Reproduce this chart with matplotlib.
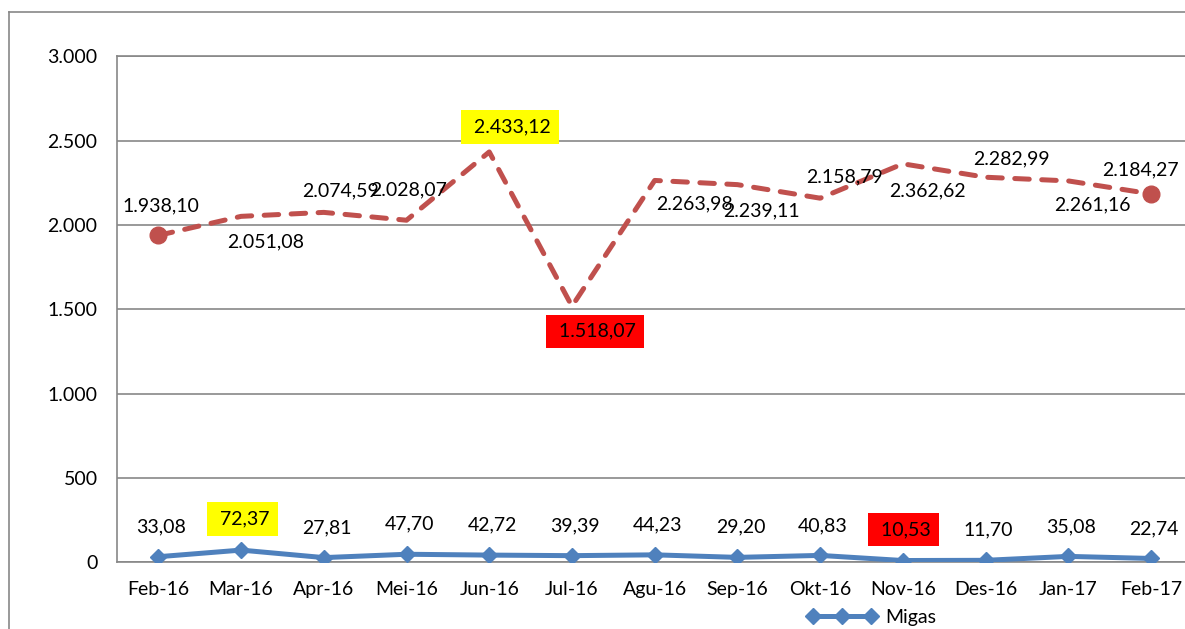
import matplotlib
matplotlib.use("Agg")
import matplotlib.pyplot as plt
from matplotlib.lines import Line2D

plt.rcParams['font.family'] = ['Lato', 'DejaVu Sans']

# data
months = ["Feb-16", "Mar-16", "Apr-16", "Mei-16", "Jun-16", "Jul-16", "Agu-16",
          "Sep-16", "Okt-16", "Nov-16", "Des-16", "Jan-17", "Feb-17"]
non_migas = [1938.10, 2051.08, 2074.59, 2028.07, 2433.12, 1518.07, 2263.98,
             2239.11, 2158.79, 2362.62, 2282.99, 2261.16, 2184.27]
migas = [33.08, 72.37, 27.81, 47.70, 42.72, 39.39, 44.23,
         29.20, 40.83, 10.53, 11.70, 35.08, 22.74]
y_ticks = [0, 500, 1000, 1500, 2000, 2500, 3000]
y_labels = ["0", "500", "1.000", "1.500", "2.000", "2.500", "3.000"]

# highlighted labels (max / min)
nm_boxes = {4: "#FFFF00", 5: "#FF0000"}
mg_boxes = {1: "#FFFF00", 9: "#FF0000"}

# label offsets in pixels (dx, dy) for the non-migas series, as Excel placed them
nm_offsets = [(3, -30), (25, 26), (17, -22), (2, -30), (21, -25), (23, 25), (40, 23),
              (24, 26), (24, -21), (25, 27), (26, -18), (24, 24), (-11, -24)]

RED = "#C0504D"
BLUE = "#4F81BD"
GRID = "#878787"
FS = 14


def fmt_id(v):
    s = f"{v:,.2f}"
    return s.replace(",", "#").replace(".", ",").replace("#", ".")


fig = plt.figure(figsize=(11.85, 6.29), dpi=100)
ax = fig.add_axes([117 / 1185, 66.7 / 629, 1075.4 / 1185, 506 / 629])

x = list(range(len(months)))

ax.plot(x, non_migas, color=RED, lw=3.6, linestyle=(0, (2.9, 2.5)),
        dash_capstyle='round', marker='o', markersize=12, markevery=[0, len(x) - 1],
        label="Non Migas", zorder=3)
mg_line, = ax.plot(x, migas, color=BLUE, lw=3.6, marker='D', markersize=8.5,
                   markeredgewidth=1, solid_capstyle='round', label="Migas", zorder=3)

px = 0.72  # points per pixel at 100 dpi


def put_label(i, v, dx, dy, box):
    txt = fmt_id(v)
    kw = {}
    if box:
        txt = " " + txt
        kw['bbox'] = dict(boxstyle='square,pad=0.42', fc=box, ec='none')
    ax.annotate(txt, (i, v), xytext=(dx * px, -dy * px), textcoords='offset points',
                ha='center', va='center', fontsize=FS, color='black', zorder=5, **kw)


for i, v in enumerate(non_migas):
    dx, dy = nm_offsets[i]
    put_label(i, v, dx, dy, nm_boxes.get(i))

for i, v in enumerate(migas):
    box = mg_boxes.get(i)
    put_label(i, v, 1 if box else 3, -31 if box else -30, box)

ax.set_xlim(-0.5, 12.5)
ax.set_ylim(0, 3000)
ax.set_xticks(x)
ax.set_xticklabels(months, fontsize=FS)
ax.set_yticks(y_ticks)
ax.set_yticklabels(y_labels, fontsize=FS)
ax.tick_params(axis='both', length=0)
ax.tick_params(axis='x', pad=13.5)
ax.tick_params(axis='y', pad=14)

ax.grid(axis='y', color=GRID, lw=1.2)
ax.set_axisbelow(True)
for side in ['left', 'bottom', 'top']:
    ax.spines[side].set_color(GRID)
    ax.spines[side].set_linewidth(1.2)
ax.spines['right'].set_visible(False)

# outer chart frame (cut by the image on right and bottom)
fig.add_artist(Line2D([8.5 / 1185, 8.5 / 1185], [0, 1 - 11.5 / 629],
                      transform=fig.transFigure, color=GRID, lw=1.2))
fig.add_artist(Line2D([8.5 / 1185, 1], [1 - 11.5 / 629, 1 - 11.5 / 629],
                      transform=fig.transFigure, color=GRID, lw=1.2))

fig.legend(handles=[mg_line], labels=["Migas"], loc='center left',
           bbox_to_anchor=(807 / 1185, 1 - 617 / 629), frameon=False,
           fontsize=FS, numpoints=3, handlelength=3.6, handletextpad=0.4,
           borderpad=0, borderaxespad=0)

fig.savefig("out.png", dpi=100)
